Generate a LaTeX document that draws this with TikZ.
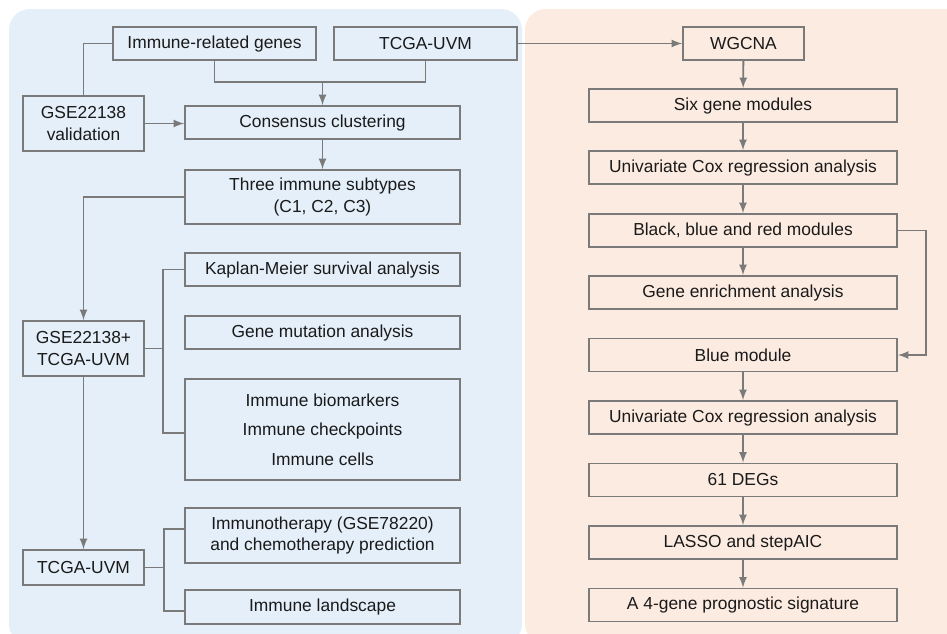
\documentclass[tikz,border=0pt]{standalone}
\usepackage{fontspec}
\setmainfont{Liberation Sans}
\usepackage{xcolor}
\usepackage{tikz}
\usetikzlibrary{calc}
\usetikzlibrary{arrows}
\usetikzlibrary{positioning}

\definecolor{panelblue}{HTML}{E4EFF9}
\definecolor{panelpeach}{HTML}{FCEBE1}
\definecolor{linegray}{HTML}{7A7A7A}
\definecolor{textdark}{HTML}{1A1A1A}

\tikzset{
 box/.style={rectangle, draw=linegray, line width=1.1pt, align=center, inner sep=0pt,
  minimum height=0.66cm, text=textdark, font=\fontsize{9.9}{12.3}\selectfont},
 wbox/.style={box, minimum width=5.5cm},
 rbox/.style={box, minimum width=6.16cm},
 sbox/.style={box, minimum width=2.42cm},
 link/.style={draw=linegray, line width=1.05pt},
 arr/.style={link, -latex}
}

\begin{document}
\begin{tikzpicture}[x=0.02cm, y=-0.02cm]
 \clip (0,0) rectangle (947,633);
 \fill [white] (0,0) rectangle (947,633);
 % panels
 \fill [panelblue, rounded corners=12] (9,9) rectangle (522,645);
 \fill [panelpeach, rounded corners=12] (525,9) rectangle (975,645);

 % left column
 \node [box, minimum width=4.06cm] (IRG) at (214.5, 43.5) {Immune-related genes};
 \node [box, minimum width=3.66cm] (T0) at (425.5, 43.5) {TCGA-UVM};
 \node [sbox, minimum height=1.1cm] (V) at (83.5, 123.5) {GSE22138\\validation};
 \node [wbox] (C) at (322.5, 122.5) {Consensus clustering};
 \node [wbox, minimum height=1.08cm] (S) at (322.5, 197) {Three immune subtypes\\(C1, C2, C3)};
 \node [wbox] (K) at (322.5, 269.5) {Kaplan-Meier survival analysis};
 \node [wbox] (M) at (322.5, 332.5) {Gene mutation analysis};
 \node [wbox, minimum height=2.02cm] (B) at (322.5, 429.5) {Immune biomarkers\\[4.5pt]Immune checkpoints\\[4.5pt]Immune cells};
 \node [sbox, minimum height=1.1cm] (G) at (83.5, 348.5) {GSE22138+\\TCGA-UVM};
 \node [sbox, minimum height=0.7cm] (T1) at (83.5, 567.5) {TCGA-UVM};
 \node [wbox, minimum height=1.1cm] (I) at (322.5, 535.5) {Immunotherapy (GSE78220)\\and chemotherapy prediction};
 \node [wbox, minimum height=0.68cm] (L) at (322.5, 607) {Immune landscape};

 \coordinate (J1) at (322.5, 82);
 \coordinate (J2) at (163, 348.5);
 \coordinate (J3) at (164, 567.5);

 \draw [link] (IRG) |- (J1) -| (T0);
 \draw [arr] (J1) -- (C);
 \draw [link] (V) |- (IRG);
 \draw [arr] (V.east) -- (V.east -| C.west);
 \draw [arr] (C) -- (S);
 \draw [arr] (S.west) -| (G.north);
 \draw [link] (G.east) -- (J2);
 \draw [link] (K.west) -| (J2) |- ([yshift=-0.07cm]B.west);
 \draw [arr] (G) -- (T1);
 \draw [link] (T1.east) -- (J3);
 \draw [link] ([yshift=0.13cm]I.west) -| (J3) |- ([yshift=-0.08cm]L.west);

 % right column
 \node [sbox] (W) at (743.5, 43.5) {WGCNA};
 \node [rbox] (R1) at (743, 105.5) {Six gene modules};
 \node [rbox] (R2) at (743, 167.5) {Univariate Cox regression analysis};
 \node [rbox] (R3) at (743, 230.5) {Black, blue and red modules};
 \node [rbox] (R4) at (743, 292.5) {Gene enrichment analysis};
 \node [rbox] (R5) at (743, 355) {Blue module};
 \node [rbox] (R6) at (743, 417.5) {Univariate Cox regression analysis};
 \node [rbox] (R7) at (743, 480) {61 DEGs};
 \node [rbox] (R8) at (743, 542.5) {LASSO and stepAIC};
 \node [rbox] (R9) at (743, 605) {A 4-gene prognostic signature};

 \coordinate (J4) at (926, 230.5);

 \draw [arr] (T0) -- (W);
 \draw [arr] (W) -- (R1);
 \foreach \a/\b in {R1/R2, R2/R3, R3/R4, R5/R6, R6/R7, R7/R8, R8/R9}
  \draw [arr] (\a) -- (\b);
 \draw [arr] (R3.east) -- (J4) |- (R5.east);
\end{tikzpicture}
\end{document}
